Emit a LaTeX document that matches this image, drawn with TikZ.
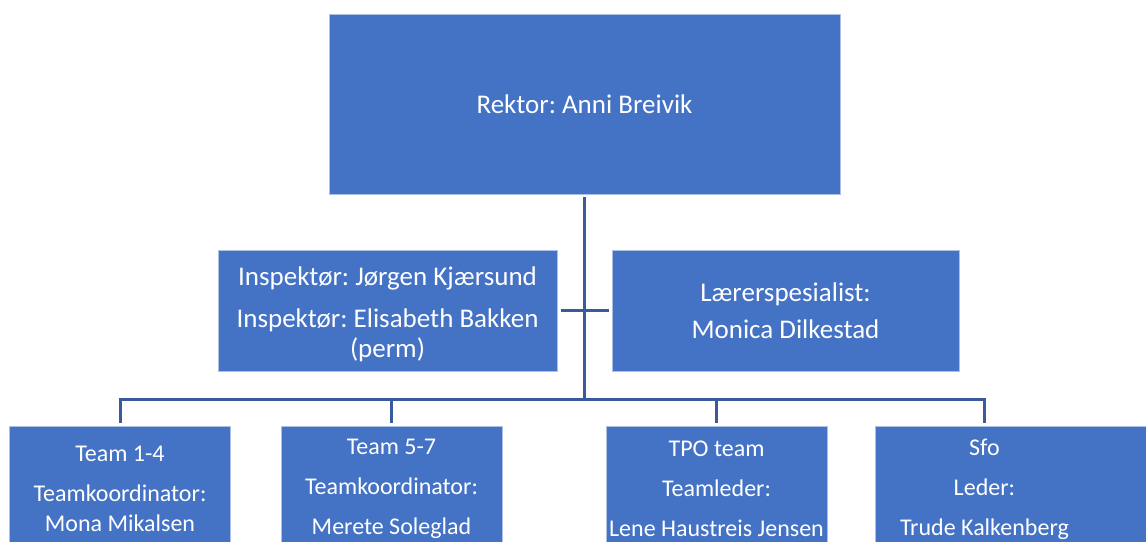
\documentclass[tikz,border=0pt]{standalone}
\usepackage{fontspec}
\setmainfont{Carlito}
\usepackage{tikz}
\usetikzlibrary{calc}
\frenchspacing

\definecolor{boxblue}{HTML}{4472C4}
\definecolor{lineblue}{HTML}{3A5A9E}

\begin{document}
\begin{tikzpicture}[x=0.5pt,y=-0.5pt,
	box/.style={draw=boxblue!45!white,line width=0.4pt,fill=boxblue,text=white,align=center,inner sep=0pt,font=\fontsize{13.5}{15}\selectfont},
	team/.style={box,minimum width=110.5pt,minimum height=62.5pt,anchor=north,font=\fontsize{12}{15}\selectfont},
	link/.style={draw=lineblue,line width=1.5pt}]
	\clip (0,0) rectangle (1146,541);
	\node [box,minimum width=255.5pt,minimum height=90pt] (rektor) at (584.5,104) {Rektor: Anni Breivik};
	\node [box,minimum width=169.5pt,minimum height=60.5pt] (insp) at (387.5,310.5) {\rule{0pt}{13pt}Inspektør: Jørgen Kjærsund\\[6pt]Inspektør: Elisabeth Bakken\\(perm)};
	\node [box,minimum width=173.5pt,minimum height=60.5pt] (laerer) at (785.5,310.5) {Lærerspesialist:\\[3.5pt]Monica Dilkestad};
	\node [team] (team1) at (120,426) {Team 1-4\\[5pt]Teamkoordinator:\\Mona Mikalsen};
	\node [team] (team2) at (391.5,426) {Team 5-7\\[5pt]Teamkoordinator:\\[5pt]Merete Soleglad};
	\node [team] (tpo) at (716.5,426) {TPO team\\[5pt]Teamleder:\\[5pt]Lene Haustreis Jensen};
	% sfo box runs off the right edge, text stays over its drop line
	\node [team,anchor=north west,minimum width=150pt] (sfo) at (875,426) {Sfo\rule{41pt}{0pt}\\[5pt]Leder:\rule{41pt}{0pt}\\[5pt]Trude Kalkenberg\rule{41pt}{0pt}};
	\coordinate (sfotop) at (984,426);
	\draw [link] ($(rektor.south)+(0,3)$) -- ++(0,202) coordinate (bus);
	\draw [link] ($(insp.east)+(4,0)$) -- ($(laerer.west)+(-3,0)$);
	\draw [link] ($(team1.north)+(0,-3)$) |- (bus) -| ($(sfotop)+(0,-3)$);
	\draw [link] ($(team2.north)+(0,-3)$) -- (team2.north |- bus);
	\draw [link] ($(tpo.north)+(0,-3)$) -- (tpo.north |- bus);
\end{tikzpicture}
\end{document}
